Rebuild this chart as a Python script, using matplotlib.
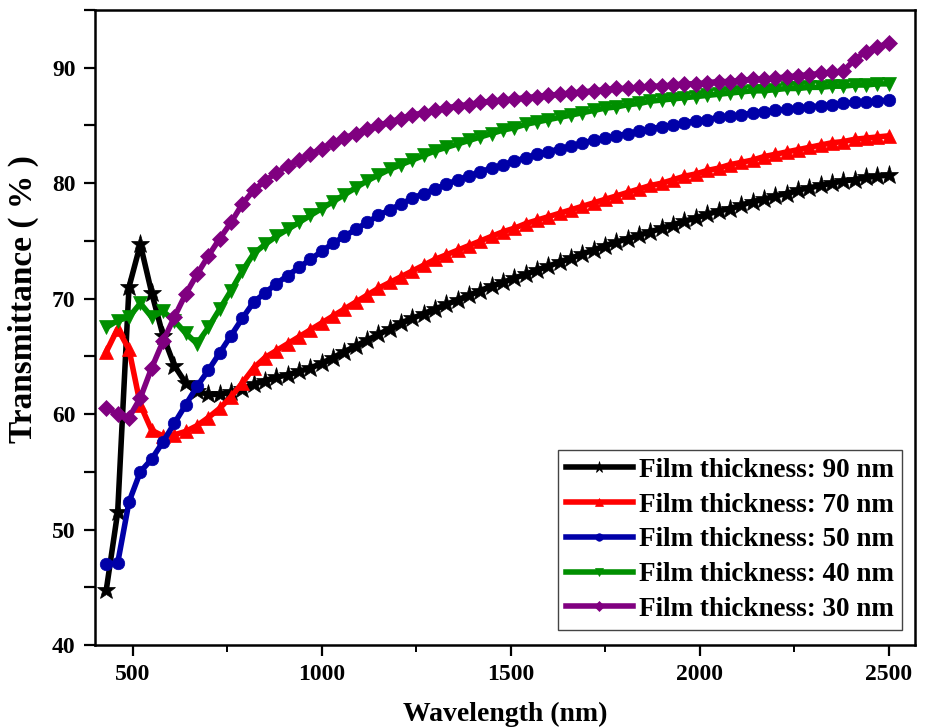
import numpy as np
import matplotlib
matplotlib.use("Agg")
import matplotlib.pyplot as plt
from matplotlib.ticker import MultipleLocator

# Wavelength grid (nm)
wavelength = np.arange(430, 2501, 30)

# Transmittance (%) for each film thickness
t_90nm = [44.8, 51.5, 71.0, 74.7, 70.5, 66.8, 64.2, 62.7, 62.0, 61.7,
          61.7, 61.9, 62.2, 62.6, 62.9, 63.2, 63.4, 63.7, 64.0, 64.4,
          64.9, 65.4, 65.9, 66.4, 66.9, 67.4, 67.9, 68.3, 68.7, 69.1,
          69.5, 69.9, 70.3, 70.7, 71.1, 71.4, 71.8, 72.1, 72.5, 72.8,
          73.2, 73.5, 73.9, 74.2, 74.6, 74.9, 75.2, 75.5, 75.8, 76.1,
          76.4, 76.7, 77.0, 77.3, 77.6, 77.8, 78.1, 78.4, 78.6, 78.9,
          79.1, 79.4, 79.6, 79.8, 80.0, 80.2, 80.3, 80.5, 80.6, 80.7]

t_70nm = [65.4, 67.4, 65.6, 60.8, 58.6, 58.1, 58.2, 58.5, 59.0, 59.7,
          60.5, 61.5, 62.7, 64.0, 64.9, 65.5, 66.1, 66.7, 67.3, 67.9,
          68.5, 69.1, 69.7, 70.3, 70.9, 71.4, 71.9, 72.4, 72.9, 73.4,
          73.8, 74.2, 74.6, 75.0, 75.4, 75.8, 76.1, 76.5, 76.8, 77.1,
          77.4, 77.7, 78.0, 78.3, 78.6, 78.9, 79.2, 79.5, 79.8, 80.0,
          80.3, 80.6, 80.8, 81.1, 81.3, 81.6, 81.8, 82.0, 82.3, 82.5,
          82.7, 82.9, 83.1, 83.3, 83.5, 83.6, 83.8, 83.9, 84.0, 84.1]

t_50nm = [47.0, 47.1, 52.4, 55.0, 56.1, 57.6, 59.2, 60.8, 62.4, 63.8,
          65.3, 66.8, 68.3, 69.7, 70.5, 71.3, 72.0, 72.7, 73.4, 74.1,
          74.8, 75.4, 76.0, 76.6, 77.2, 77.7, 78.2, 78.7, 79.1, 79.5,
          79.9, 80.3, 80.6, 81.0, 81.3, 81.6, 81.9, 82.2, 82.5, 82.7,
          83.0, 83.2, 83.5, 83.7, 83.9, 84.1, 84.3, 84.5, 84.7, 84.9,
          85.0, 85.2, 85.4, 85.5, 85.7, 85.8, 85.9, 86.1, 86.2, 86.3,
          86.4, 86.5, 86.6, 86.7, 86.8, 86.9, 87.0, 87.0, 87.1, 87.2]

t_40nm = [67.5, 68.1, 68.4, 69.6, 68.4, 68.9, 68.1, 67.0, 66.1, 67.5,
          69.1, 70.7, 72.4, 73.9, 74.7, 75.4, 76.0, 76.6, 77.2, 77.8,
          78.4, 79.0, 79.6, 80.2, 80.7, 81.2, 81.6, 82.0, 82.4, 82.8,
          83.1, 83.4, 83.7, 84.0, 84.3, 84.6, 84.8, 85.1, 85.3, 85.5,
          85.7, 85.9, 86.1, 86.3, 86.5, 86.6, 86.8, 86.9, 87.1, 87.2,
          87.3, 87.4, 87.5, 87.6, 87.7, 87.8, 87.9, 88.0, 88.0, 88.1,
          88.2, 88.2, 88.3, 88.3, 88.4, 88.4, 88.5, 88.5, 88.6, 88.6]

t_30nm = [60.5, 60.0, 59.7, 61.4, 64.0, 66.3, 68.4, 70.4, 72.1, 73.7,
          75.2, 76.6, 78.2, 79.4, 80.2, 80.9, 81.5, 82.0, 82.5, 83.0,
          83.5, 83.9, 84.3, 84.7, 85.0, 85.3, 85.6, 85.9, 86.1, 86.3,
          86.5, 86.7, 86.8, 87.0, 87.1, 87.2, 87.3, 87.4, 87.5, 87.6,
          87.7, 87.8, 87.9, 88.0, 88.1, 88.2, 88.2, 88.3, 88.4, 88.4,
          88.5, 88.6, 88.6, 88.7, 88.8, 88.8, 88.9, 89.0, 89.0, 89.1,
          89.2, 89.3, 89.4, 89.5, 89.6, 89.7, 90.7, 91.4, 91.8, 92.1]

labels = ["Film thickness: 90 nm", "Film thickness: 70 nm",
          "Film thickness: 50 nm", "Film thickness: 40 nm",
          "Film thickness: 30 nm"]

plt.rcParams["font.family"] = ["Liberation Serif", "DejaVu Serif"]
plt.rcParams["font.weight"] = "bold"

fig = plt.figure(figsize=(9.25, 7.28), dpi=100)
ax = fig.add_axes([0.1027, 0.114, 0.8865, 0.8723])

styles = [
    (t_90nm, "#000000", "*", 14),
    (t_70nm, "#FF0000", "^", 10),
    (t_50nm, "#0000A8", "o", 9),
    (t_40nm, "#008F00", "v", 10),
    (t_30nm, "#800080", "D", 8),
]

for (vals, color, marker, ms), lab in zip(styles, labels):
    ax.plot(wavelength, vals, color=color, marker=marker, markersize=ms,
            linewidth=4, markeredgewidth=0.5, markeredgecolor=color,
            label=lab)

ax.set_xlim(400, 2570)
ax.set_ylim(40, 95)
ax.xaxis.set_major_locator(MultipleLocator(500))
ax.xaxis.set_minor_locator(MultipleLocator(250))
ax.yaxis.set_major_locator(MultipleLocator(10))
ax.yaxis.set_minor_locator(MultipleLocator(5))

for side in ax.spines.values():
    side.set_linewidth(1.8)

ax.tick_params(axis="both", which="major", direction="out", length=8,
               width=1.6, labelsize=17, pad=6)
ax.tick_params(axis="x", which="minor", direction="out", length=5, width=1.4)
ax.tick_params(axis="y", which="minor", direction="out", length=8, width=1.6)
for lbl in ax.get_xticklabels() + ax.get_yticklabels():
    lbl.set_fontweight("bold")

ax.set_xlabel("Wavelength (nm)", fontsize=20, fontweight="bold", labelpad=12)
ax.set_ylabel("Transmittance ( % )", fontsize=24, fontweight="bold")
ax.yaxis.set_label_coords(-0.068, 0.545)

leg = ax.legend(loc="lower right", bbox_to_anchor=(0.984, 0.0236),
                borderaxespad=0, fontsize=19.5, frameon=True, fancybox=False,
                edgecolor="#444444", framealpha=1, handlelength=2.5,
                handletextpad=0.2, labelspacing=0.36, borderpad=0.3,
                numpoints=1, markerscale=0.6)
leg.get_frame().set_linewidth(1.0)
for txt in leg.get_texts():
    txt.set_fontweight("bold")

fig.savefig("out.png", dpi=100)
